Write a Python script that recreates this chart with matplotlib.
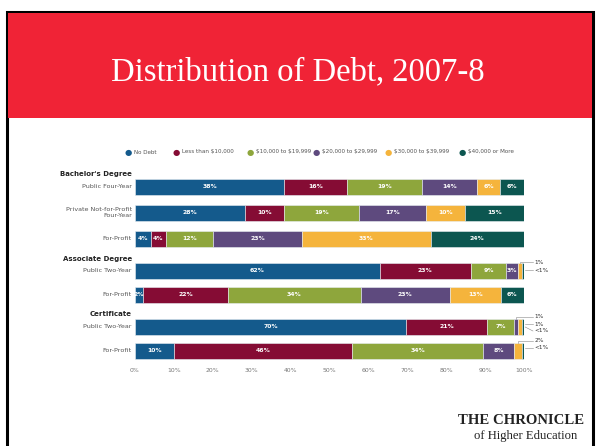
import numpy as np
import matplotlib.pyplot as plt
from matplotlib.patches import Rectangle

plt.rcParams['text.parse_math'] = False

categories = ["No Debt", "Less than $10,000", "$10,000 to $19,999",
              "$20,000 to $29,999", "$30,000 to $39,999", "$40,000 or More"]
colors = ["#145a8c", "#850c34", "#8ea63c", "#5e4a7e", "#f5b43c", "#0c5650"]

groups = ["Bachelor's Degree", "Associate Degree", "Certificate"]
row_group = [0, 0, 0, 1, 1, 2, 2]
row_names = ["Public Four-Year", "Private Not-for-Profit\nFour-Year", "For-Profit",
             "Public Two-Year", "For-Profit",
             "Public Two-Year", "For-Profit"]
# shares in percent ("<1%" taken as 0.5)
shares = [
    [38, 16, 19, 14, 6, 6],
    [28, 10, 19, 17, 10, 15],
    [4, 4, 12, 23, 33, 24],
    [62, 23, 9, 3, 1, 0.5],
    [2, 22, 34, 23, 13, 6],
    [70, 21, 7, 1, 1, 0.5],
    [10, 46, 34, 8, 2, 0.5],
]
shown = [
    ["38%", "16%", "19%", "14%", "6%", "6%"],
    ["28%", "10%", "19%", "17%", "10%", "15%"],
    ["4%", "4%", "12%", "23%", "33%", "24%"],
    ["62%", "23%", "9%", "3%", "1%", "<1%"],
    ["2%", "22%", "34%", "23%", "13%", "6%"],
    ["70%", "21%", "7%", "1%", "1%", "<1%"],
    ["10%", "46%", "34%", "8%", "2%", "<1%"],
]
# segments labelled outside the bar, with a leader line (and vertical offset of the label)
outside = {3: [4, 5], 5: [3, 4, 5], 6: [4, 5]}
out_dy = {3: [-9, -1], 5: [-10, -3, 4], 6: [-10, -3]}
ticks = [0, 10, 20, 30, 40, 50, 60, 70, 80, 90, 100]

W, H = 596, 446
fig = plt.figure(figsize=(W / 100, H / 100), dpi=100)

# slide frame and red header band
fig.patches.append(Rectangle((7 / W, -0.05), 586 / W, 1.05 - 12 / H, transform=fig.transFigure,
                             facecolor="white", edgecolor="black", linewidth=2.2, zorder=-2))
fig.patches.append(Rectangle((8 / W, 1 - 118 / H), 584 / W, 105 / H, transform=fig.transFigure,
                             facecolor="#f02336", edgecolor="none", zorder=-1))
fig.text(0.5, 1 - 72 / H, "Distribution of Debt, 2007-8", color="white",
         family="Liberation Serif", fontsize=23.5, ha="center", va="center")

# legend row
leg_x = [128, 176, 250, 316, 388, 462]
for lx, name, c in zip(leg_x, categories, colors):
    fig.text(lx / W, 1 - 152 / H, "\u25CF", color=c, fontsize=6, ha="center", va="center")
    fig.text((lx + 6) / W, 1 - 152 / H, name, color="#555555", fontsize=4.1, ha="left", va="center")

# bar area: data y measured in pixels from the top
ax = fig.add_axes([135 / W, 1 - 378 / H, 389 / W, 213 / H])
ax.set_xlim(0, 100)
ax.set_ylim(378, 165)
ax.axis("off")

# row layout
ypos, head_y = [], []
y = 174
for gi, g in enumerate(groups):
    head_y.append(y)
    y += 12.5
    for r in range(len(row_names)):
        if row_group[r] == gi:
            ypos.append(y)
            y += 26 if gi == 0 else 23.5
    y += -14 if gi == 0 else -11.5
    y += 8

bar_h = 16
for r, vals in enumerate(shares):
    vals = np.array(vals, dtype=float)
    vals = vals / vals.sum() * 100
    left = np.concatenate([[0], np.cumsum(vals)[:-1]])
    yc = ypos[r]
    for k in range(len(vals)):
        ax.barh(yc, vals[k], left=left[k], height=bar_h, color=colors[k],
                edgecolor="#e8eef2", linewidth=0.4)
        if k not in outside.get(r, []):
            ax.text(left[k] + vals[k] / 2, yc, shown[r][k], color="white",
                    fontsize=4.4, fontweight="bold", ha="center", va="center")
    # callouts at right end
    outs = outside.get(r, [])
    for j, k in enumerate(outs):
        ly = yc + out_dy[r][j]
        xm = left[k] + vals[k] / 2
        if ly > yc - bar_h / 2 + 2:
            ax.plot([100.3, 102.3], [min(ly, yc), ly], color="#888888", lw=0.4, clip_on=False)
        else:
            ax.plot([xm, xm, 102.3], [yc - bar_h / 2, ly, ly], color="#888888", lw=0.4,
                    clip_on=False)
        ax.text(102.6, ly, shown[r][k], color="#333333", fontsize=4.2,
                ha="left", va="center")
    ax.text(-0.8, yc, row_names[r], color="#555555", fontsize=4.6, ha="right",
            va="center", linespacing=1.1)

for g, hy in zip(groups, head_y):
    ax.text(-0.8, hy, g, color="#222222", fontsize=5, fontweight="bold",
            ha="right", va="center")

for t in ticks:
    ax.text(t, 370, f"{t}%", color="#777777", fontsize=4.4, ha="center", va="center")

fig.text(584 / W, 1 - 420 / H, "THE CHRONICLE", family="Liberation Serif",
         fontsize=10.6, fontweight="bold", color="#222222", ha="right", va="center")
fig.text(577 / W, 1 - 436 / H, "of Higher Education", family="Liberation Serif",
         fontsize=9.1, color="#222222", ha="right", va="center")

fig.savefig("out.png", dpi=100)
